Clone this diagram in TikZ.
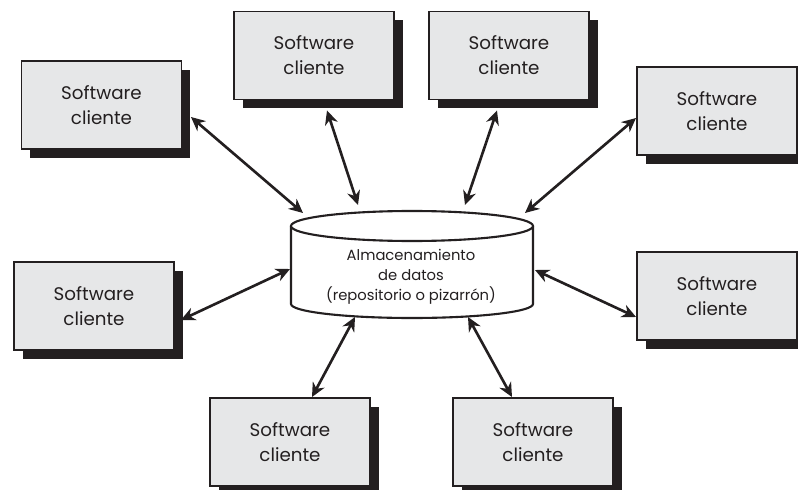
\documentclass[tikz,border=0pt]{standalone}
\usepackage{fontspec}
\setmainfont{Poppins}
\usepackage{xcolor}
\usepackage{tikz}
\usetikzlibrary{arrows.meta,calc,shadows}
\definecolor{repoink}{HTML}{231F20}
\definecolor{repofill}{HTML}{E6E7E8}
\definecolor{reposhadow}{HTML}{231F20}

\begin{document}
\begin{tikzpicture}[
    x=1cm,
    y=1cm,
    >=Stealth,
    client/.style={rectangle, draw=repoink, fill=repofill, line width=1.1pt,
      minimum width=3.2cm, minimum height=1.76cm, align=center,
      font=\fontsize{10.4}{14.2}\selectfont, text=repoink,
      drop shadow={shadow xshift=0.17cm, shadow yshift=-0.18cm, fill=reposhadow, opacity=1}},
    link/.style={{Stealth[length=8pt,width=7.5pt,inset=2.6pt]}-{Stealth[length=8pt,width=7.5pt,inset=2.6pt]}, line width=1.5pt, draw=repoink},
    drum/.style={draw=repoink, line width=1.2pt, fill=white}
  ]
    \useasboundingbox (0,0) rectangle (15.96,9.78);

    % data store (cylinder)
    \coordinate (top) at (8.24,5.26);
    \draw[drum] (5.82,5.26) -- (5.82,3.70)
      arc[start angle=180, end angle=360, x radius=2.42cm, y radius=0.28cm] -- (10.66,5.26);
    \draw[drum] (top) ellipse[x radius=2.42cm, y radius=0.30cm];
    \node[align=center, font=\fontsize{8.4}{11.3}\selectfont, text=repoink] (N-store) at (8.22,4.25)
      {Almacenamiento\\de datos\\(repositorio o pizarrón)};

    % client boxes
    \node[client] (N-c1) at (2.03,7.68) {Software\\cliente};
    \node[client] (N-c2) at (6.28,8.67) {Software\\cliente};
    \node[client] (N-c3) at (10.18,8.67) {Software\\cliente};
    \node[client] (N-c4) at (14.34,7.56) {Software\\cliente};
    \node[client] (N-c5) at (1.88,3.66) {Software\\cliente};
    \node[client] (N-c6) at (14.34,3.86) {Software\\cliente};
    \node[client] (N-c7) at (5.80,0.94) {Software\\cliente};
    \node[client] (N-c8) at (10.66,0.94) {Software\\cliente};

    % ends on the store
    \coordinate (D-1) at (6.06,5.52);
    \coordinate (D-2) at (7.16,5.68);
    \coordinate (D-3) at (9.30,5.68);
    \coordinate (D-4) at (10.50,5.52);
    \coordinate (D-5) at (5.80,4.40);
    \coordinate (D-6) at (10.70,4.38);
    \coordinate (D-7) at (7.10,3.44);
    \coordinate (D-8) at (9.36,3.44);

    \draw[link] ($(N-c1.east)+(0.17,-0.24)$) -- (D-1);
    \draw[link] ($(N-c2.south)+(0.26,-0.20)$) -- (D-2);
    \draw[link] ($(N-c3.south)+(-0.24,-0.20)$) -- (D-3);
    \draw[link] ($(N-c4.west)+(0,-0.14)$) -- (D-4);
    \draw[link] ($(N-c5.east)+(0.12,-0.28)$) -- (D-5);
    \draw[link] ($(N-c6.west)+(0,-0.42)$) -- (D-6);
    \draw[link] ($(N-c7.north)+(0.44,0)$) -- (D-7);
    \draw[link] ($(N-c8.north)+(-0.42,0)$) -- (D-8);

  \end{tikzpicture}
\end{document}
